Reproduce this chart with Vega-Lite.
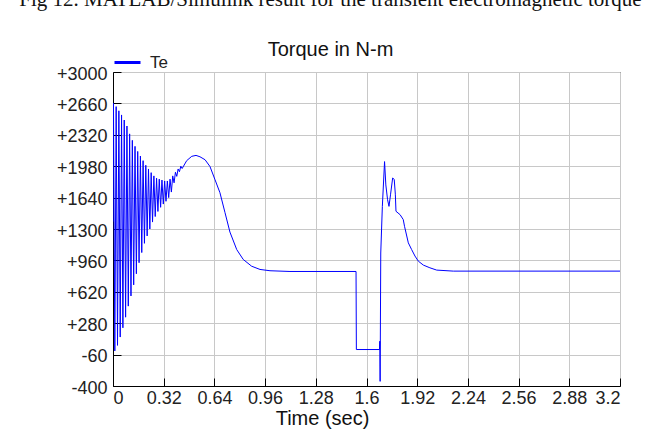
{
  "$schema": "https://vega.github.io/schema/vega-lite/v6.json",
  "width": 507,
  "height": 314,
  "autosize": {"type": "none"},
  "padding": {"left": 113, "top": 72, "right": 51, "bottom": 49},
  "background": "white",
  "title": {
    "text": "Fig 12. MATLAB/Simulink result for the transient electromagnetic torque",
    "subtitle": "Torque in N-m",
    "anchor": "middle", "dx": -36, "offset": -12,
    "font": "Liberation Serif", "fontSize": 21, "fontWeight": "normal", "color": "#111",
    "subtitleFont": "Liberation Sans", "subtitleFontSize": 20, "subtitleColor": "#111", "subtitlePadding": 30
  },
  "data": {"values": [
    {"t": 0, "v": 1380, "series": "Te"},
    {"t": 0.003, "v": 2660, "series": "Te"},
    {"t": 0.0115, "v": -20, "series": "Te"},
    {"t": 0.020, "v": 2625, "series": "Te"},
    {"t": 0.0285, "v": 40, "series": "Te"},
    {"t": 0.037, "v": 2580, "series": "Te"},
    {"t": 0.0455, "v": 130, "series": "Te"},
    {"t": 0.054, "v": 2535, "series": "Te"},
    {"t": 0.0625, "v": 230, "series": "Te"},
    {"t": 0.071, "v": 2480, "series": "Te"},
    {"t": 0.0795, "v": 345, "series": "Te"},
    {"t": 0.088, "v": 2415, "series": "Te"},
    {"t": 0.0965, "v": 465, "series": "Te"},
    {"t": 0.105, "v": 2330, "series": "Te"},
    {"t": 0.1135, "v": 575, "series": "Te"},
    {"t": 0.122, "v": 2260, "series": "Te"},
    {"t": 0.1305, "v": 695, "series": "Te"},
    {"t": 0.139, "v": 2195, "series": "Te"},
    {"t": 0.1475, "v": 815, "series": "Te"},
    {"t": 0.156, "v": 2140, "series": "Te"},
    {"t": 0.1645, "v": 935, "series": "Te"},
    {"t": 0.173, "v": 2090, "series": "Te"},
    {"t": 0.1815, "v": 1045, "series": "Te"},
    {"t": 0.190, "v": 2040, "series": "Te"},
    {"t": 0.1985, "v": 1145, "series": "Te"},
    {"t": 0.207, "v": 1990, "series": "Te"},
    {"t": 0.2155, "v": 1225, "series": "Te"},
    {"t": 0.224, "v": 1950, "series": "Te"},
    {"t": 0.2325, "v": 1300, "series": "Te"},
    {"t": 0.241, "v": 1910, "series": "Te"},
    {"t": 0.2495, "v": 1375, "series": "Te"},
    {"t": 0.258, "v": 1875, "series": "Te"},
    {"t": 0.2665, "v": 1435, "series": "Te"},
    {"t": 0.275, "v": 1850, "series": "Te"},
    {"t": 0.2835, "v": 1490, "series": "Te"},
    {"t": 0.292, "v": 1840, "series": "Te"},
    {"t": 0.3005, "v": 1535, "series": "Te"},
    {"t": 0.309, "v": 1830, "series": "Te"},
    {"t": 0.3175, "v": 1570, "series": "Te"},
    {"t": 0.326, "v": 1820, "series": "Te"},
    {"t": 0.3345, "v": 1600, "series": "Te"},
    {"t": 0.343, "v": 1820, "series": "Te"},
    {"t": 0.3515, "v": 1640, "series": "Te"},
    {"t": 0.360, "v": 1840, "series": "Te"},
    {"t": 0.3685, "v": 1700, "series": "Te"},
    {"t": 0.377, "v": 1875, "series": "Te"},
    {"t": 0.3855, "v": 1800, "series": "Te"},
    {"t": 0.394, "v": 1915, "series": "Te"},
    {"t": 0.4025, "v": 1870, "series": "Te"},
    {"t": 0.411, "v": 1950, "series": "Te"},
    {"t": 0.4195, "v": 1920, "series": "Te"},
    {"t": 0.428, "v": 1980, "series": "Te"},
    {"t": 0.4365, "v": 1955, "series": "Te"},
    {"t": 0.465, "v": 2040, "series": "Te"},
    {"t": 0.497, "v": 2087, "series": "Te"},
    {"t": 0.524, "v": 2097, "series": "Te"},
    {"t": 0.549, "v": 2082, "series": "Te"},
    {"t": 0.581, "v": 2050, "series": "Te"},
    {"t": 0.612, "v": 1977, "series": "Te"},
    {"t": 0.644, "v": 1833, "series": "Te"},
    {"t": 0.675, "v": 1693, "series": "Te"},
    {"t": 0.707, "v": 1477, "series": "Te"},
    {"t": 0.738, "v": 1267, "series": "Te"},
    {"t": 0.781, "v": 1077, "series": "Te"},
    {"t": 0.822, "v": 970, "series": "Te"},
    {"t": 0.875, "v": 897, "series": "Te"},
    {"t": 0.928, "v": 862, "series": "Te"},
    {"t": 0.991, "v": 848, "series": "Te"},
    {"t": 1.117, "v": 840, "series": "Te"},
    {"t": 1.534, "v": 840, "series": "Te"},
    {"t": 1.536, "v": -5, "series": "Te"},
    {"t": 1.682, "v": -5, "series": "Te"},
    {"t": 1.684, "v": 85, "series": "Te"},
    {"t": 1.686, "v": -350, "series": "Te"},
    {"t": 1.690, "v": 1040, "series": "Te"},
    {"t": 1.700, "v": 1545, "series": "Te"},
    {"t": 1.714, "v": 2030, "series": "Te"},
    {"t": 1.722, "v": 1777, "series": "Te"},
    {"t": 1.733, "v": 1617, "series": "Te"},
    {"t": 1.742, "v": 1545, "series": "Te"},
    {"t": 1.752, "v": 1677, "series": "Te"},
    {"t": 1.765, "v": 1852, "series": "Te"},
    {"t": 1.775, "v": 1837, "series": "Te"},
    {"t": 1.782, "v": 1677, "series": "Te"},
    {"t": 1.786, "v": 1492, "series": "Te"},
    {"t": 1.812, "v": 1455, "series": "Te"},
    {"t": 1.832, "v": 1402, "series": "Te"},
    {"t": 1.840, "v": 1329, "series": "Te"},
    {"t": 1.864, "v": 1150, "series": "Te"},
    {"t": 1.885, "v": 1077, "series": "Te"},
    {"t": 1.906, "v": 1007, "series": "Te"},
    {"t": 1.927, "v": 952, "series": "Te"},
    {"t": 1.959, "v": 909, "series": "Te"},
    {"t": 2.0, "v": 880, "series": "Te"},
    {"t": 2.043, "v": 855, "series": "Te"},
    {"t": 2.148, "v": 844, "series": "Te"},
    {"t": 3.2, "v": 844, "series": "Te"}
  ]},
  "mark": {"type": "line", "strokeWidth": 1, "clip": true},
  "encoding": {
    "x": {
      "field": "t", "type": "quantitative",
      "scale": {"domain": [0, 3.2], "nice": false, "zero": false},
      "axis": {
        "values": [0, 0.32, 0.64, 0.96, 1.28, 1.6, 1.92, 2.24, 2.56, 2.88, 3.2],
        "labelExpr": "'' + datum.value", "labelFlush": true, "labelPadding": 11,
        "title": "Time (sec)", "titleX": 209, "titleY": 38, "titleAlign": "center", "titleAnchor": null, "titleBaseline": "alphabetic"
      }
    },
    "y": {
      "field": "v", "type": "quantitative",
      "scale": {"domain": [-400, 3000], "nice": false, "zero": false},
      "axis": {
        "values": [-400, -60, 280, 620, 960, 1300, 1640, 1980, 2320, 2660, 3000],
        "labelExpr": "datum.value > 0 ? '+' + datum.value : '' + datum.value",
        "labelPadding": 14, "labelOffset": 2,
        "title": null
      }
    },
    "color": {
      "field": "series", "type": "nominal",
      "scale": {"range": ["#0000ff"]},
      "legend": {
        "orient": "none", "legendX": 0, "legendY": -24, "title": null,
        "symbolType": "stroke", "symbolSize": 676, "symbolStrokeWidth": 3,
        "labelFont": "Liberation Sans", "labelFontSize": 17, "labelColor": "#222", "labelOffset": 8, "padding": 0
      }
    }
  },
  "config": {
    "axis": {
      "labelFont": "Liberation Sans", "labelFontSize": 18, "labelColor": "#222",
      "titleFont": "Liberation Sans", "titleFontSize": 20, "titleFontWeight": "normal", "titleColor": "#111",
      "gridColor": "#c8c8c8", "gridWidth": 1, "gridOpacity": 1,
      "domainColor": "#000", "domainWidth": 1, "tickColor": "#000", "tickSize": -8, "tickWidth": 1
    },
    "view": {"stroke": "#000", "strokeWidth": 1}
  }
}
